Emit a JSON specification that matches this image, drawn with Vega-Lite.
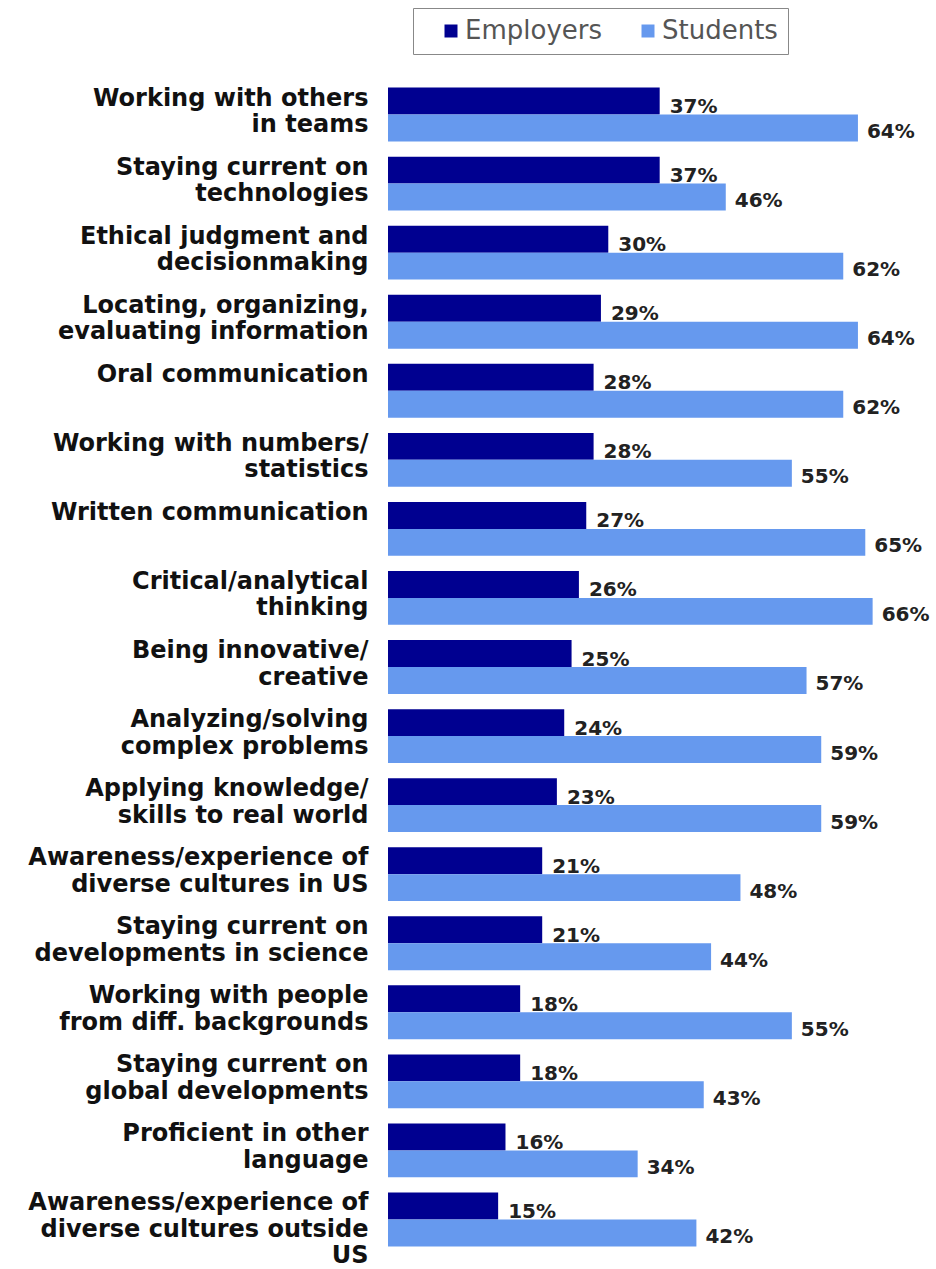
{
  "$schema": "https://vega.github.io/schema/vega-lite/v6.json",
  "width": 514,
  "height": 1174,
  "autosize": {"type": "none"},
  "padding": {"left": 388, "top": 80, "right": 34, "bottom": 15},
  "background": "white",
  "config": {"view": {"stroke": null}},
  "data": {
    "values": [
      {"skill": "Working with others|in teams", "group": "Employers", "pct": 37},
      {"skill": "Working with others|in teams", "group": "Students", "pct": 64},
      {"skill": "Staying current on|technologies", "group": "Employers", "pct": 37},
      {"skill": "Staying current on|technologies", "group": "Students", "pct": 46},
      {"skill": "Ethical judgment and|decisionmaking", "group": "Employers", "pct": 30},
      {"skill": "Ethical judgment and|decisionmaking", "group": "Students", "pct": 62},
      {"skill": "Locating, organizing,|evaluating information", "group": "Employers", "pct": 29},
      {"skill": "Locating, organizing,|evaluating information", "group": "Students", "pct": 64},
      {"skill": "Oral communication", "group": "Employers", "pct": 28},
      {"skill": "Oral communication", "group": "Students", "pct": 62},
      {"skill": "Working with numbers/|statistics", "group": "Employers", "pct": 28},
      {"skill": "Working with numbers/|statistics", "group": "Students", "pct": 55},
      {"skill": "Written communication", "group": "Employers", "pct": 27},
      {"skill": "Written communication", "group": "Students", "pct": 65},
      {"skill": "Critical/analytical|thinking", "group": "Employers", "pct": 26},
      {"skill": "Critical/analytical|thinking", "group": "Students", "pct": 66},
      {"skill": "Being innovative/|creative", "group": "Employers", "pct": 25},
      {"skill": "Being innovative/|creative", "group": "Students", "pct": 57},
      {"skill": "Analyzing/solving|complex problems", "group": "Employers", "pct": 24},
      {"skill": "Analyzing/solving|complex problems", "group": "Students", "pct": 59},
      {"skill": "Applying knowledge/|skills to real world", "group": "Employers", "pct": 23},
      {"skill": "Applying knowledge/|skills to real world", "group": "Students", "pct": 59},
      {"skill": "Awareness/experience of|diverse cultures in US", "group": "Employers", "pct": 21},
      {"skill": "Awareness/experience of|diverse cultures in US", "group": "Students", "pct": 48},
      {"skill": "Staying current on|developments in science", "group": "Employers", "pct": 21},
      {"skill": "Staying current on|developments in science", "group": "Students", "pct": 44},
      {"skill": "Working with people|from diff. backgrounds", "group": "Employers", "pct": 18},
      {"skill": "Working with people|from diff. backgrounds", "group": "Students", "pct": 55},
      {"skill": "Staying current on|global developments", "group": "Employers", "pct": 18},
      {"skill": "Staying current on|global developments", "group": "Students", "pct": 43},
      {"skill": "Proficient in other|language", "group": "Employers", "pct": 16},
      {"skill": "Proficient in other|language", "group": "Students", "pct": 34},
      {"skill": "Awareness/experience of|diverse cultures outside|US", "group": "Employers", "pct": 15},
      {"skill": "Awareness/experience of|diverse cultures outside|US", "group": "Students", "pct": 42}
    ]
  },
  "encoding": {
    "y": {
      "field": "skill",
      "type": "nominal",
      "sort": null,
      "title": null,
      "scale": {"paddingInner": 0.22, "paddingOuter": 0.11},
      "axis": {
        "domain": false,
        "ticks": false,
        "labelOffset": -28,
        "labelBaseline": "top",
        "labelAlign": "right",
        "labelPadding": 20,
        "labelFont": "DejaVu Sans",
        "labelFontWeight": "bold",
        "labelFontSize": 24,
        "labelLineHeight": 26.5,
        "labelColor": "#111",
        "labelLimit": 400,
        "labelExpr": "split(datum.label, '|')"
      }
    },
    "yOffset": {"field": "group", "type": "nominal", "sort": ["Employers", "Students"]},
    "x": {
      "field": "pct",
      "type": "quantitative",
      "scale": {"domain": [0, 70]},
      "axis": null
    }
  },
  "layer": [
    {
      "mark": {"type": "bar", "cornerRadius": 0},
      "encoding": {
        "color": {
          "field": "group",
          "type": "nominal",
          "scale": {"domain": ["Employers", "Students"], "range": ["#000090", "#6699ee"]},
          "legend": {
            "orient": "none",
            "legendX": 25,
            "legendY": -72,
            "direction": "horizontal",
            "title": null,
            "strokeColor": "#888",
            "fillColor": "white",
            "padding": 10,
            "symbolType": "square",
            "symbolSize": 169,
            "symbolOffset": 15,
            "symbolStrokeWidth": 0,
            "labelOffset": 1,
            "labelFont": "DejaVu Sans",
            "labelFontSize": 26,
            "labelColor": "#555",
            "columnPadding": 17
          }
        }
      }
    },
    {
      "transform": [{"filter": "datum.group == 'Employers'"}],
      "mark": {"type": "text", "align": "left", "baseline": "middle", "dx": 10, "dy": 6, "font": "DejaVu Sans", "fontWeight": "bold", "fontSize": 20, "fill": "#222", "text": {"expr": "datum.pct + '%'"}}
    },
    {
      "transform": [{"filter": "datum.group == 'Students'"}],
      "mark": {"type": "text", "align": "left", "baseline": "middle", "dx": 9, "dy": 4, "font": "DejaVu Sans", "fontWeight": "bold", "fontSize": 20, "fill": "#222", "text": {"expr": "datum.pct + '%'"}}
    }
  ]
}
